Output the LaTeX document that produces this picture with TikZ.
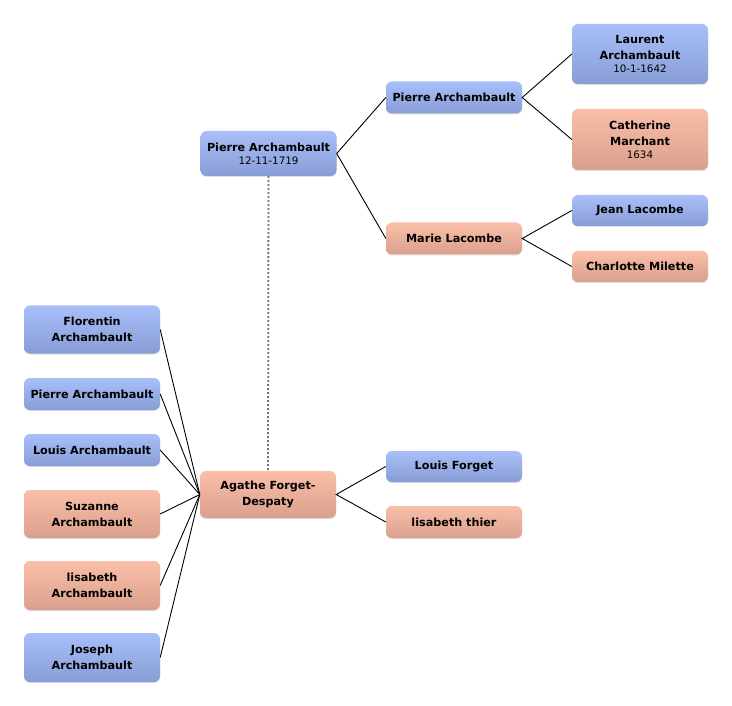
\documentclass[tikz,border=0pt]{standalone}
\usepackage{fontspec}
\setmainfont{DejaVu Sans}
\usetikzlibrary{shadows}
\definecolor{blueT}{HTML}{A9BFF9}
\definecolor{blueB}{HTML}{889DD5}
\definecolor{salT}{HTML}{FBBFA8}
\definecolor{salB}{HTML}{D9A08D}
\newcommand{\datefont}{\mdseries\fontsize{10.3}{12}\selectfont}
\tikzset{
 person/.style={rounded corners=6pt, minimum width=136pt, inner sep=0pt, align=center,
   font=\bfseries\fontsize{11.2}{16}\selectfont,
   drop shadow={shadow xshift=0pt, shadow yshift=-1pt, opacity=0.25}},
 male/.style={person, top color=blueT, bottom color=blueB},
 female/.style={person, top color=salT, bottom color=salB},
 link/.style={line width=0.9pt, black},
 spouse/.style={line width=1.8pt, black!55, dash pattern=on 2pt off 2pt},
}
\begin{document}
\begin{tikzpicture}[x=1pt,y=-1pt]
\useasboundingbox[fill=white] (0,0) rectangle (732,706);
% root couple
\node[male, minimum height=45pt] (pA) at (268.5,153.5) {Pierre Archambault\\[-3pt]{\datefont 12-11-1719}};
\node[female, minimum height=47pt] (ag) at (268,494.5) {Agathe Forget-\\Despaty};
% ancestors of Pierre
\node[male, minimum height=32pt] (pF) at (454,97.5) {Pierre Archambault};
\node[female, minimum height=32pt] (mL) at (454,238.5) {Marie Lacombe};
\node[male, minimum height=60pt] (lA) at (640,54) {Laurent\\Archambault\\[-3pt]{\datefont 10-1-1642}};
\node[female, minimum height=61pt] (cM) at (640,139.5) {Catherine\\Marchant\\[-3pt]{\datefont 1634}};
\node[male, minimum height=31pt] (jL) at (640,210.5) {Jean Lacombe};
\node[female, minimum height=31pt] (chM) at (640,266.5) {Charlotte Milette};
% parents of Agathe
\node[male, minimum height=31pt] (lF) at (454,466.5) {Louis Forget};
\node[female, minimum height=32pt] (lT) at (454,522) {lisabeth thier};
% children
\node[male, minimum height=48pt] (fA) at (92,329.5) {Florentin\\Archambault};
\node[male, minimum height=32pt] (pL) at (92,394) {Pierre Archambault};
\node[male, minimum height=32pt] (loA) at (92,450) {Louis Archambault};
\node[female, minimum height=48pt] (sA) at (92,514) {Suzanne\\Archambault};
\node[female, minimum height=49pt] (liA) at (92,585.5) {lisabeth\\Archambault};
\node[male, minimum height=49pt] (jA) at (92,657.5) {Joseph\\Archambault};
% connectors
\draw[spouse] (pA.south) -- (ag.north);
\draw[link] (pF.west) -- (pA.east) -- (mL.west);
\draw[link] (lA.west) -- (pF.east) -- (cM.west);
\draw[link] (jL.west) -- (mL.east) -- (chM.west);
\draw[link] (lF.west) -- (ag.east) -- (lT.west);
\foreach \c in {fA,pL,loA,sA,liA,jA} \draw[link] (\c.east) -- (ag.west);
\end{tikzpicture}
\end{document}
